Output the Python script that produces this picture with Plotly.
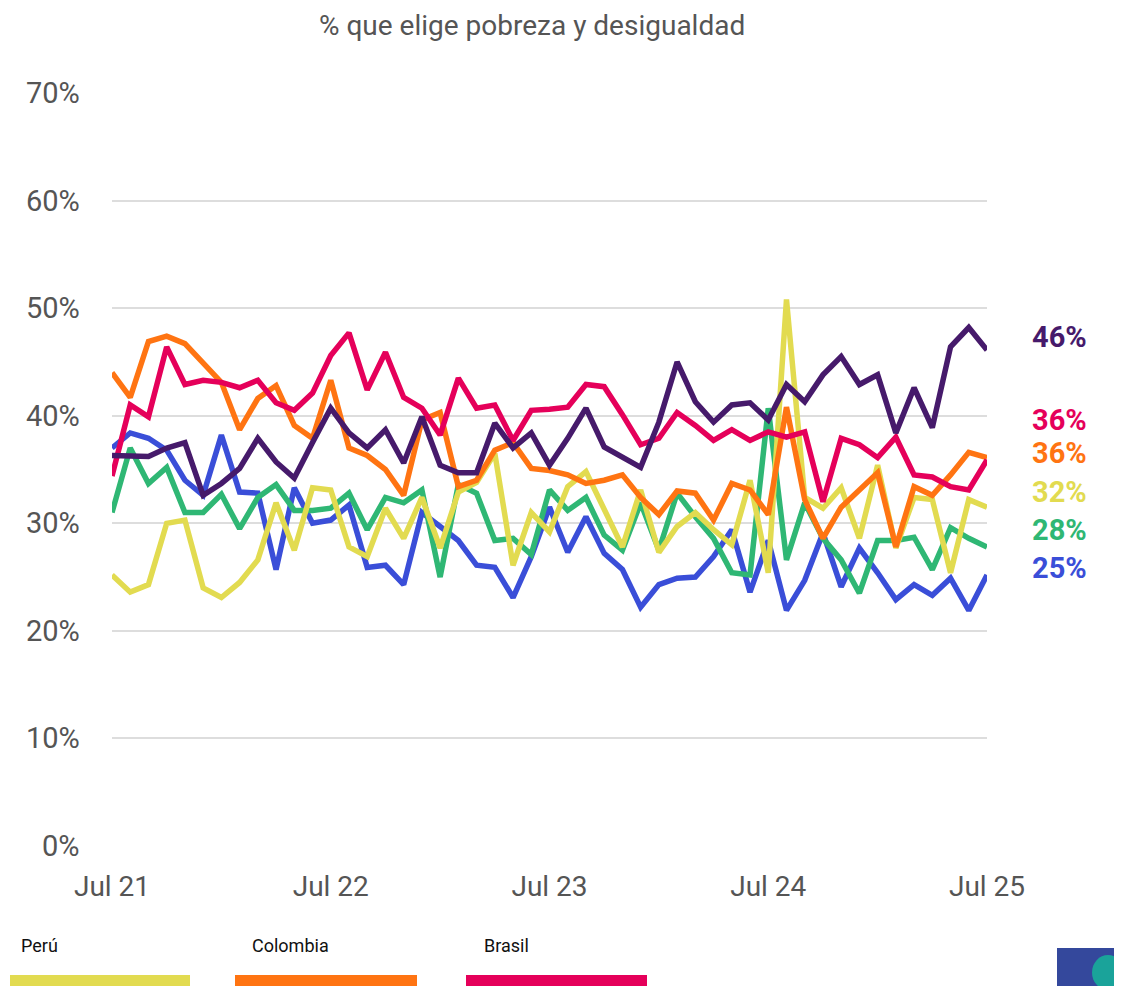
import plotly.graph_objects as go

months = ["Jul 21","Aug 21","Sep 21","Oct 21","Nov 21","Dec 21","Jan 22","Feb 22","Mar 22","Apr 22","May 22","Jun 22",
          "Jul 22","Aug 22","Sep 22","Oct 22","Nov 22","Dec 22","Jan 23","Feb 23","Mar 23","Apr 23","May 23","Jun 23",
          "Jul 23","Aug 23","Sep 23","Oct 23","Nov 23","Dec 23","Jan 24","Feb 24","Mar 24","Apr 24","May 24","Jun 24",
          "Jul 24","Aug 24","Sep 24","Oct 24","Nov 24","Dec 24","Jan 25","Feb 25","Mar 25","Apr 25","May 25","Jun 25","Jul 25"]
tick_labels = ["Jul 21", "Jul 22", "Jul 23", "Jul 24", "Jul 25"]

purple = [36.3,36.2,36.2,37.0,37.5,32.6,33.7,35.1,37.9,35.7,34.2,37.5,40.7,38.4,37.0,38.7,35.6,39.9,35.4,34.7,34.7,39.3,37.0,38.4,
          35.4,37.9,40.7,37.1,36.2,35.2,39.4,45.0,41.3,39.4,41.0,41.2,39.6,42.9,41.3,43.8,45.5,42.9,43.8,38.4,42.6,38.9,46.4,48.2,46.1]
brasil = [34.4,41.0,39.9,46.4,42.9,43.3,43.1,42.6,43.3,41.2,40.5,42.1,45.6,47.7,42.4,45.9,41.7,40.7,38.2,43.5,40.7,41.0,37.7,40.5,
          40.6,40.8,42.9,42.7,40.1,37.3,37.9,40.3,39.1,37.7,38.7,37.7,38.5,38.0,38.5,32.0,37.9,37.3,36.1,38.0,34.5,34.3,33.4,33.1,35.9]
colombia = [44.0,41.7,46.9,47.4,46.7,44.9,43.1,38.7,41.6,42.8,39.1,37.9,43.3,37.0,36.3,35.0,32.6,39.6,40.3,33.4,34.0,36.8,37.5,35.1,
            34.9,34.5,33.7,34.0,34.5,32.4,30.8,33.0,32.8,30.3,33.7,33.1,30.8,40.8,32.2,28.6,31.5,33.1,34.7,27.8,33.4,32.6,34.5,36.6,36.1]
peru = [25.2,23.6,24.3,30.0,30.3,24.0,23.1,24.5,26.6,31.9,27.5,33.3,33.1,27.8,26.9,31.4,28.6,32.4,27.7,32.9,33.8,36.5,26.1,31.0,
        29.2,33.4,34.8,31.2,27.8,33.1,27.3,29.7,31.0,29.4,28.0,34.0,25.4,50.8,32.4,31.4,33.3,28.6,35.4,27.7,32.4,32.2,25.4,32.2,31.5]
green = [31.0,37.0,33.7,35.2,31.0,31.0,32.7,29.5,32.4,33.6,31.2,31.2,31.4,32.8,29.4,32.4,31.9,33.1,25.0,33.6,32.8,28.4,28.6,27.1,
         33.1,31.2,32.4,28.9,27.5,31.9,27.5,32.8,30.6,28.6,25.4,25.2,40.7,26.6,31.9,28.6,26.6,23.5,28.4,28.4,28.7,25.7,29.6,28.6,27.8]
blue = [37.0,38.4,37.9,36.8,34.0,32.6,38.2,32.9,32.8,25.7,33.3,30.0,30.3,31.7,25.9,26.1,24.3,31.0,29.7,28.4,26.1,25.9,23.1,26.9,
        31.5,27.3,30.6,27.2,25.7,22.2,24.3,24.9,25.0,26.9,29.4,23.6,28.4,21.9,24.7,29.1,24.1,27.7,25.4,22.9,24.3,23.3,24.9,21.9,25.2]

series = [
    ("Perú", peru, "#e2db50"),
    ("Colombia", colombia, "#ff7412"),
    ("Brasil", brasil, "#e5005a"),
    ("Verde", green, "#2fb774"),
    ("Azul", blue, "#3a4ed8"),
    ("Morado", purple, "#461a6b"),
]
draw_order = ["Azul", "Verde", "Perú", "Colombia", "Brasil", "Morado"]

end_labels = ["46%", "36%", "36%", "32%", "28%", "25%"]
end_label_colors = ["#461a6b", "#e5005a", "#ff7412", "#e2db50", "#2fb774", "#3a4ed8"]
end_label_y = [47.3, 39.6, 36.5, 32.9, 29.4, 25.8]

OFF = 8  # page body margin
W, H = 1122 - OFF, 986 - OFF
L, T = 112 - OFF, 93 - OFF
R, B = W - (987 - OFF), H - (846 - OFF)
pw, ph = W - L - R, H - T - B

def px(x):
    return (x - OFF - L) / pw

def py(y):
    return (H - B - (y - OFF)) / ph

fig = go.Figure()
sdict = {n: (v, c) for n, v, c in series}
for name in draw_order:
    vals, col = sdict[name]
    fig.add_trace(go.Scatter(x=months, y=vals, mode="lines", name=name,
                             line=dict(color=col, width=5.5), showlegend=False,
                             cliponaxis=False))

font_main = "Roboto, 'Noto Sans', sans-serif"
annotations = []
for txt, col, yv in zip(end_labels, end_label_colors, end_label_y):
    annotations.append(dict(x=px(1030), xref="paper", y=yv, yref="y", text=f"<b>{txt}</b>",
                            showarrow=False, xanchor="left", yanchor="middle",
                            font=dict(family=font_main, size=29, color=col)))

annotations.append(dict(x=px(532), xref="paper", y=py(25), yref="paper",
                        text="% que elige pobreza y desigualdad", showarrow=False,
                        xanchor="center", yanchor="middle",
                        font=dict(family=font_main, size=28, color="#555555")))

# y tick labels as annotations (right-aligned at x=80)
y_ticks = [0, 10, 20, 30, 40, 50, 60, 70]
y_tick_text = ["0%", "10%", "20%", "30%", "40%", "50%", "60%", "70%"]
for v, t in zip(y_ticks, y_tick_text):
    annotations.append(dict(x=px(82), xref="paper", y=v, yref="y", text=t, showarrow=False,
                            xanchor="right", yanchor="middle",
                            font=dict(family=font_main, size=29, color="#555555")))

shapes = []
legend_items = [("Perú", "#e2db50", 19, 10, 190), ("Colombia", "#ff7412", 250, 235, 417), ("Brasil", "#e5005a", 482, 466, 647)]
for name, col, tx, x0, x1 in legend_items:
    annotations.append(dict(x=px(tx), xref="paper", y=py(946), yref="paper", text=name,
                            showarrow=False, xanchor="left", yanchor="middle",
                            font=dict(family=font_main, size=18, color="#111111")))
    shapes.append(dict(type="rect", xref="paper", yref="paper", x0=px(x0), x1=px(x1),
                       y0=py(986), y1=py(975), fillcolor=col, line=dict(width=0)))

# logo block
shapes.append(dict(type="rect", xref="paper", yref="paper", x0=px(1057), x1=px(1122),
                   y0=py(986), y1=py(948), fillcolor="#34489c", line=dict(width=0)))
shapes.append(dict(type="circle", xref="paper", yref="paper", x0=px(1092), x1=px(1124),
                   y0=py(990), y1=py(955), fillcolor="#1aa39a", line=dict(width=0)))

fig.update_layout(
    width=W, height=H,
    margin=dict(l=L, r=R, t=T, b=B),
    paper_bgcolor="white", plot_bgcolor="white",
    showlegend=False,
    annotations=annotations,
    shapes=shapes,
    xaxis=dict(range=[0, 48], tickmode="array", tickvals=[months[i] for i in (0, 12, 24, 36, 48)],
               ticktext=tick_labels, showgrid=False, zeroline=False, showline=False,
               tickfont=dict(family=font_main, size=28, color="#555555"), ticks="",
               type="category", ticklabelstandoff=21),
    yaxis=dict(range=[0, 70], tickvals=y_ticks, showticklabels=False,
               showgrid=True, gridcolor="#dddddd", gridwidth=2, zeroline=False, ticks=""),
)

fig.write_html("out.html")
